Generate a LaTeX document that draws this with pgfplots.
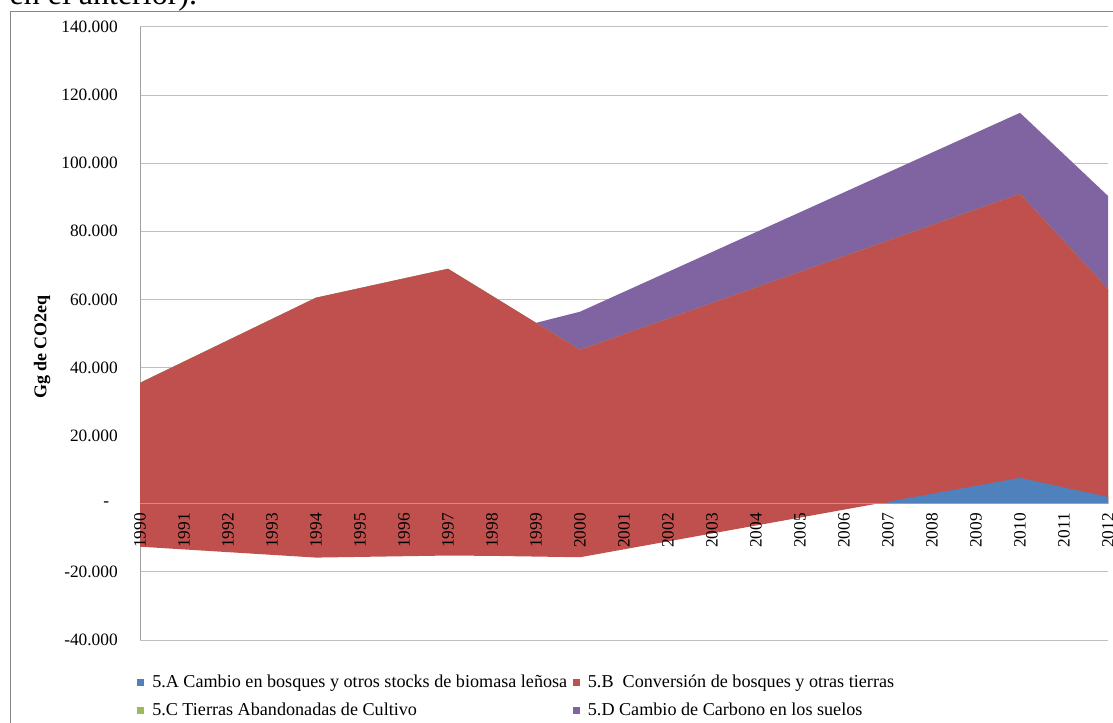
\documentclass[border=0pt]{standalone}
\usepackage{fontspec}
\setmainfont{Liberation Serif}
\usepackage{pgfplots}
\usepackage{pgfplotstable}
\pgfplotsset{compat=1.18}
\definecolor{cA}{HTML}{4F81BD}
\definecolor{cB}{HTML}{C0504D}
\definecolor{cC}{HTML}{9BBB59}
\definecolor{cD}{HTML}{8064A2}
\definecolor{gridc}{RGB}{191,191,191}
\definecolor{axc}{RGB}{160,160,160}
\definecolor{framec}{RGB}{134,134,134}

\pgfplotstableread{
year A B C D
1990 -12600 48100 0 0
1991 -13400 55150 0 0
1992 -14200 62200 0 0
1993 -15000 69250 0 0
1994 -15800 76300 0 0
1995 -15600 78930 0 0
1996 -15400 81570 0 0
1997 -15200 84200 0 0
1998 -15300 76370 0 0
1999 -15500 68630 0 0
2000 -15700 60900 0 11200
2001 -13370 63150 0 12460
2002 -11040 65400 0 13720
2003 -8710 67650 0 14980
2004 -6380 69900 0 16240
2005 -4050 72150 0 17500
2006 -1720 74400 0 18760
2007 610 76650 0 20020
2008 2940 78900 0 21280
2009 5270 81150 0 22540
2010 7600 83400 0 23800
2011 4800 72250 0 25550
2012 2000 61100 0 27300
}\data

\pgfplotsset{base/.style={
  at={(105pt,61.5pt)}, anchor=south west,
  scale only axis, width=726pt, height=459.75pt,
  xmin=1990, xmax=2012, ymin=-40000, ymax=140000,
  major tick length=0pt,
  axis line style={axc, line width=0.75pt, -},
  tick label style={font=\fontsize{13}{15}\selectfont},
}}

\begin{document}
\begin{tikzpicture}
\clip (0,0) rectangle (834.75pt,541.5pt);
\draw[framec, line width=0.75pt] (7.5pt,-5pt) -- (7.5pt,532.5pt) -- (840pt,532.5pt);
\node[anchor=base west, inner sep=0pt, font=\fontsize{24}{28}\selectfont] at (7pt,538pt) {en el anterior).};
\begin{axis}[
  base,
  axis x line=none, axis y line*=left,
  ymajorgrids, grid style={gridc, line width=0.75pt},
  scaled y ticks=false,
  ytick={-40000,-20000,0,20000,40000,60000,80000,100000,120000,140000},
  yticklabels={-40.000,-20.000,{-\kern6.5pt},20.000,40.000,60.000,80.000,100.000,120.000,140.000},
  yticklabel style={anchor=east, inner sep=0pt, xshift=-16.5pt},
  ylabel={\bfseries Gg de CO2eq},
  ylabel style={at={(axis description cs:-0.101,0.478)}, anchor=center, font=\fontsize{13.5}{16}\selectfont},
  legend columns=2,
  legend cell align=left,
  legend image code/.code={\fill[#1] (0pt,-2.75pt) rectangle (5.5pt,2.75pt);},
  legend style={at={(axis description cs:0,0)}, anchor=north west, xshift=-2.5pt, yshift=-24pt,
    draw=none, fill=none, inner sep=0pt, row sep=6pt,
    font=\fontsize{13.6}{16}\selectfont,
    /tikz/every odd column/.append style={column sep=4pt},
    /tikz/every even column/.append style={column sep=2pt}},
]
% cumulative (stacked) areas, drawn top series first, each filled to zero
\addplot[fill=cD, draw=none, forget plot] table[x=year, y expr=\thisrow{A}+\thisrow{B}+\thisrow{C}+\thisrow{D}] {\data} \closedcycle;
\addplot[fill=cC, draw=none, forget plot] table[x=year, y expr=\thisrow{A}+\thisrow{B}+\thisrow{C}] {\data} \closedcycle;
\addplot[fill=cB, draw=none, forget plot] table[x=year, y expr=\thisrow{A}+\thisrow{B}] {\data} \closedcycle;
\addplot[fill=cB, draw=none, forget plot] table[x=year, y=A] {\data} \closedcycle;
\addplot[fill=cA, draw=none, forget plot, restrict y to domain=0:200000] table[x=year, y=A] {\data} \closedcycle;
\addlegendimage{fill=cA, draw=none}
\addlegendentry{5.A Cambio en bosques y otros stocks de biomasa leñosa}
\addlegendimage{fill=cB, draw=none}
\addlegendentry{5.B\ \ Conversión de bosques y otras tierras}
\addlegendimage{fill=cC, draw=none}
\addlegendentry{5.C Tierras Abandonadas de Cultivo}
\addlegendimage{fill=cD, draw=none}
\addlegendentry{5.D Cambio de Carbono en los suelos}
\end{axis}
\begin{axis}[
  base,
  axis x line*=middle, axis y line=none,
  xtick={1990,...,2012},
  xticklabels={1990,1991,1992,1993,1994,1995,1996,1997,1998,1999,2000,2001,2002,2003,2004,2005,2006,2007,2008,2009,2010,2011,2012},
  ytick=\empty,
  xticklabel style={anchor=east, rotate=90, inner sep=0pt},
  xticklabel shift=6.75pt,
]
\end{axis}
\end{tikzpicture}
\end{document}
